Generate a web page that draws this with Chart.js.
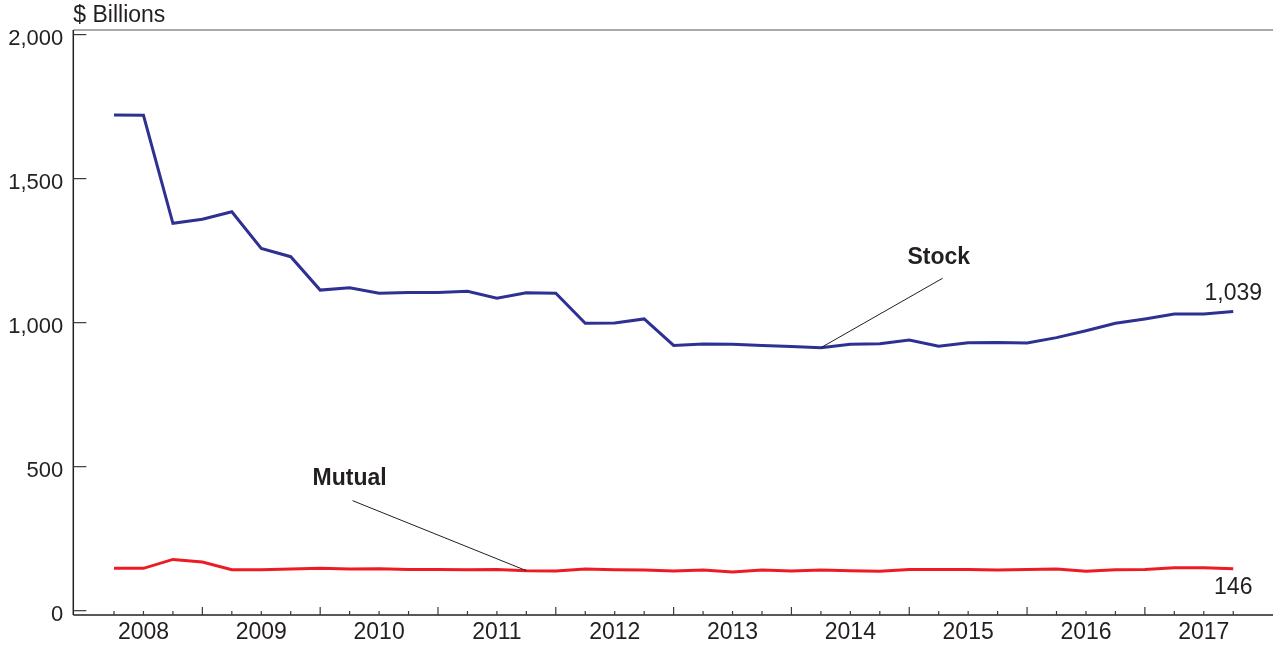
<!DOCTYPE html>
<html>
<head>
<meta charset="utf-8">
<script src="https://cdn.jsdelivr.net/npm/chart.js@4.4.1/dist/chart.umd.min.js"></script>
<style>
  html, body { margin: 0; padding: 0; background: #fff; }
  #wrap { width: 1273px; height: 647px; }
</style>
</head>
<body>
<div id="wrap"><canvas id="chart" width="1273" height="647"></canvas></div>
<script>
// Quarter-end observations, 2008 Q1 .. 2017 Q3
const quarters = [
  '2008Q1','2008Q2','2008Q3','2008Q4','2009Q1','2009Q2','2009Q3','2009Q4',
  '2010Q1','2010Q2','2010Q3','2010Q4','2011Q1','2011Q2','2011Q3','2011Q4',
  '2012Q1','2012Q2','2012Q3','2012Q4','2013Q1','2013Q2','2013Q3','2013Q4',
  '2014Q1','2014Q2','2014Q3','2014Q4','2015Q1','2015Q2','2015Q3','2015Q4',
  '2016Q1','2016Q2','2016Q3','2016Q4','2017Q1','2017Q2','2017Q3'
];
const years = ['2008','2009','2010','2011','2012','2013','2014','2015','2016','2017'];

const stock = [
  1721, 1720, 1345, 1359, 1385, 1258, 1229, 1113, 1121, 1102,
  1105, 1105, 1109, 1085, 1104, 1102, 998, 999, 1013, 921,
  926, 925, 921, 917, 913, 925, 927, 940, 918, 930,
  931, 929, 948, 972, 998, 1013, 1030, 1030, 1039
];
const mutual = [
  147, 147, 178, 169, 142, 142, 145, 147, 145, 146,
  143, 143, 142, 143, 139, 138, 145, 142, 141, 138,
  141, 134, 141, 138, 141, 139, 137, 143, 143, 143,
  141, 143, 145, 137, 142, 143, 149, 149, 146
];
const yTicks = [0, 500, 1000, 1500, 2000];

const INK = '#231f20';
const FONT = "'Liberation Sans', Arial, Helvetica, sans-serif";
const STOCK_COLOR = '#2e3192';
const MUTUAL_COLOR = '#ed1c24';

// year label sits in the middle of its four quarters
const yearCenters = years.map((_, i) => 4 * i + 1);

const decor = {
  id: 'decor',
  afterDraw(chart) {
    const { ctx, chartArea: a, scales: { x, y } } = chart;
    const seg = (x1, y1, x2, y2) => { ctx.beginPath(); ctx.moveTo(x1, y1); ctx.lineTo(x2, y2); ctx.stroke(); };
    ctx.save();

    // frame
    ctx.lineWidth = 1.5;
    ctx.strokeStyle = '#8c8c8c';
    seg(a.left, a.top, a.right, a.top);
    ctx.strokeStyle = INK;
    seg(a.left, a.top, a.left, a.bottom);
    seg(a.left, a.bottom, a.right, a.bottom);

    // inward tick marks
    ctx.lineWidth = 1.2;
    ctx.strokeStyle = '#3a3a3a';
    yTicks.forEach(v => {
      const py = y.getPixelForValue(v);
      seg(a.left, py, a.left + 13, py);
    });
    quarters.forEach((q, i) => {
      const px = x.getPixelForValue(i);
      const len = q.endsWith('Q4') ? 8 : 4;
      seg(px, a.bottom, px, a.bottom - len);
    });

    // unit label
    ctx.fillStyle = INK;
    ctx.font = `23px ${FONT}`;
    ctx.textAlign = 'left';
    ctx.textBaseline = 'alphabetic';
    ctx.fillText('$ Billions', a.left, 22);

    // series annotations with leader lines
    ctx.lineWidth = 1;
    ctx.strokeStyle = INK;
    const si = quarters.indexOf('2014Q1');
    seg(x.getPixelForValue(28.13), y.getPixelForValue(1154), x.getPixelForValue(si), y.getPixelForValue(stock[si]));
    const mi = quarters.indexOf('2011Q3');
    seg(x.getPixelForValue(8.1), y.getPixelForValue(382), x.getPixelForValue(mi), y.getPixelForValue(mutual[mi]));

    ctx.font = `bold 23px ${FONT}`;
    ctx.textAlign = 'center';
    ctx.fillText('Stock', x.getPixelForValue(28), y.getPixelForValue(1203));
    ctx.fillText('Mutual', x.getPixelForValue(8), y.getPixelForValue(436));

    // end-value labels
    const last = quarters.length - 1;
    const lx = x.getPixelForValue(last);
    ctx.font = `23px ${FONT}`;
    ctx.fillText(stock[last].toLocaleString('en-US'), lx, y.getPixelForValue(stock[last]) - 11);
    ctx.fillText(mutual[last].toLocaleString('en-US'), lx, y.getPixelForValue(mutual[last]) + 25);

    ctx.restore();
  }
};

new Chart(document.getElementById('chart'), {
  type: 'line',
  data: {
    datasets: [
      { label: 'Stock', data: stock.map((v, i) => ({ x: i, y: v })), borderColor: STOCK_COLOR, borderWidth: 3, pointRadius: 0, tension: 0 },
      { label: 'Mutual', data: mutual.map((v, i) => ({ x: i, y: v })), borderColor: MUTUAL_COLOR, borderWidth: 3, pointRadius: 0, tension: 0 }
    ]
  },
  options: {
    responsive: false,
    animation: false,
    devicePixelRatio: 1,
    layout: { padding: { top: 30, right: 0, bottom: 0, left: 0 } },
    plugins: { legend: { display: false }, tooltip: { enabled: false } },
    scales: {
      x: {
        type: 'linear',
        min: -1.382,
        max: 39.35,
        grid: { display: false, drawTicks: false },
        border: { display: false },
        afterBuildTicks: s => { s.ticks = yearCenters.map(v => ({ value: v })); },
        afterFit: s => { s.height = 32; },
        ticks: {
          autoSkip: false,
          maxRotation: 0,
          padding: 4,
          color: INK,
          font: { family: FONT, size: 23 },
          callback: v => years[(v - 1) / 4]
        }
      },
      y: {
        min: -15,
        max: 2016,
        grid: { display: false, drawTicks: false },
        border: { display: false },
        afterBuildTicks: s => { s.ticks = yTicks.map(v => ({ value: v })); },
        afterFit: s => { s.width = 73.3; },
        ticks: {
          padding: 10,
          labelOffset: 4,
          color: INK,
          font: { family: FONT, size: 22 },
          callback: v => v.toLocaleString('en-US')
        }
      }
    }
  },
  plugins: [decor]
});
</script>
</body>
</html>
